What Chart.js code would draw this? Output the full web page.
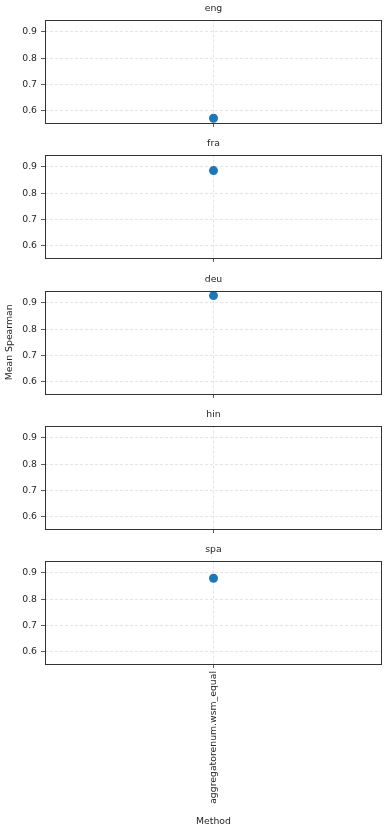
<!DOCTYPE html>
<html lang="en">
<head>
    <meta charset="UTF-8">
    <title>Mean Spearman by language</title>
    <script src="https://cdn.jsdelivr.net/npm/chart.js@4.4.0/dist/chart.umd.min.js"></script>
    <style>
        body { margin: 0; background: #fff; }
        #wrap { position: relative; width: 389px; height: 831px; }
        .panel { position: absolute; left: 0; width: 389px; }
    </style>
</head>
<body>
    <div id="wrap"></div>

    <script>
        // Data
        const languages = ['eng', 'fra', 'deu', 'hin', 'spa'];
        const methods = ['aggregatorenum.wsm_equal'];
        const eng = [0.572];
        const fra = [0.886];
        const deu = [0.928];
        const hin = [null];
        const spa = [0.880];
        const seriesByLang = [eng, fra, deu, hin, spa];
        const yTicks = [0.6, 0.7, 0.8, 0.9];
        const yMin = 0.554, yMax = 0.947;

        const FONT = "'DejaVu Sans', sans-serif";
        const FS = 9.3;
        const INK = '#262626';
        const GRID = '#dedede';

        // draws the four spines like matplotlib
        const boxPlugin = {
            id: 'box',
            afterDatasetsDraw(chart) {
                const a = chart.chartArea, c = chart.ctx;
                c.save();
                c.strokeStyle = '#333';
                c.lineWidth = 1;
                c.strokeRect(Math.round(a.left) + 0.5, Math.round(a.top) + 0.5,
                    Math.round(a.right - a.left) - 1, Math.round(a.bottom - a.top));
                c.restore();
            }
        };

        const wrap = document.getElementById('wrap');
        const step = 135.25;

        languages.forEach((lang, i) => {
            const last = i === languages.length - 1;
            const top = Math.round(step * i);
            const h = last ? 831 - top : 135;
            const div = document.createElement('div');
            div.className = 'panel';
            div.style.top = top + 'px';
            div.style.height = h + 'px';
            const cv = document.createElement('canvas');
            div.appendChild(cv);
            wrap.appendChild(div);

            new Chart(cv.getContext('2d'), {
                type: 'line',
                data: {
                    labels: methods,
                    datasets: [{
                        data: seriesByLang[i],
                        showLine: false,
                        pointRadius: 4.5,
                        pointHoverRadius: 4.5,
                        pointBackgroundColor: '#1f77b4',
                        pointBorderColor: '#1f77b4',
                        pointBorderWidth: 0,
                        clip: false
                    }]
                },
                options: {
                    responsive: true,
                    maintainAspectRatio: false,
                    animation: false,
                    layout: { padding: { left: 0, right: 7, top: 0, bottom: 0 } },
                    plugins: {
                        legend: { display: false },
                        tooltip: { enabled: false },
                        title: {
                            display: true,
                            fullSize: false,
                            text: lang,
                            color: INK,
                            font: { family: FONT, size: FS, weight: 'normal' },
                            padding: { top: 3.4, bottom: 5.0 }
                        }
                    },
                    scales: {
                        x: {
                            type: 'category',
                            offset: true,
                            border: { display: false, dash: [3, 2] },
                            grid: {
                                color: GRID,
                                lineWidth: 0.8,
                                tickLength: 4,
                                tickColor: '#333',
                                tickBorderDash: [],
                                offset: false
                            },
                            ticks: {
                                display: last,
                                color: INK,
                                font: { family: FONT, size: FS },
                                padding: 3,
                                minRotation: 90,
                                maxRotation: 90
                            },
                            title: {
                                display: last,
                                text: 'Method',
                                color: INK,
                                font: { family: FONT, size: FS },
                                padding: { top: 4, bottom: 4 }
                            },
                            afterFit(scale) { scale.height = last ? 167 : 12; }
                        },
                        y: {
                            min: yMin,
                            max: yMax,
                            border: { display: false, dash: [3, 2] },
                            grid: {
                                color: GRID,
                                lineWidth: 0.8,
                                tickLength: 4,
                                tickColor: '#333',
                                tickBorderDash: []
                            },
                            ticks: {
                                color: INK,
                                font: { family: FONT, size: FS },
                                padding: 4,
                                callback: v => v.toFixed(1)
                            },
                            afterBuildTicks(scale) {
                                scale.ticks = yTicks.map(v => ({ value: v }));
                            },
                            title: {
                                display: i === 2,
                                text: 'Mean Spearman',
                                color: INK,
                                font: { family: FONT, size: FS },
                                padding: { top: 4, bottom: 4 }
                            },
                            afterFit(scale) { scale.width = 45; }
                        }
                    }
                },
                plugins: [boxPlugin]
            });
        });
    </script>
</body>
</html>
